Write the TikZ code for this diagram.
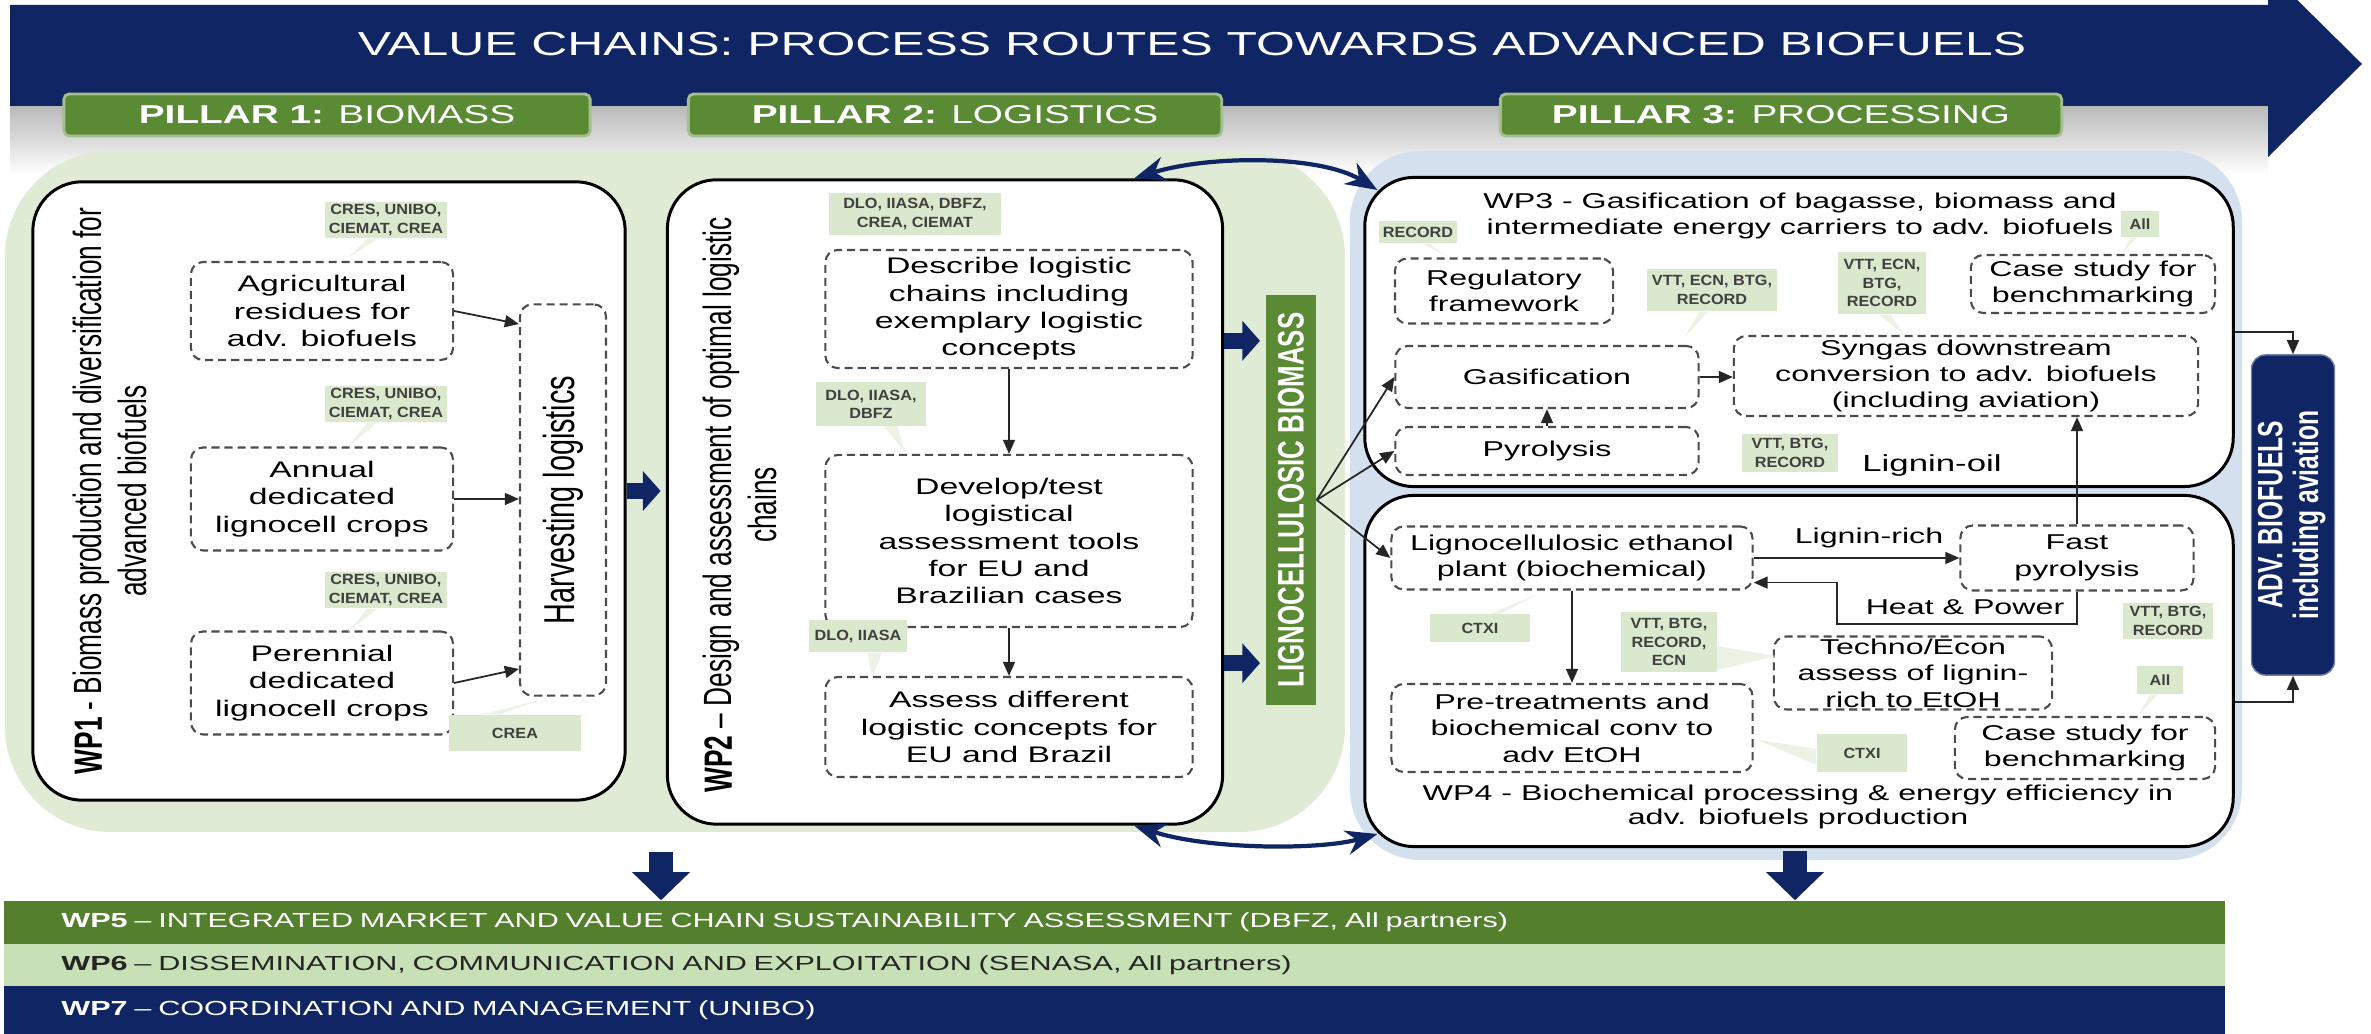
\documentclass[tikz,border=0pt]{standalone}
\usepackage{fontspec}
\setmainfont{Liberation Sans}[FakeStretch=1.5]
\newfontfamily\upfont{Liberation Sans}[FakeStretch=0.667]
\newfontfamily\condfont{Liberation Sans}[FakeStretch=0.7]
\newfontfamily\tagfont{Liberation Sans}[FakeStretch=1.1]
\usetikzlibrary{arrows.meta}

\definecolor{navy}{RGB}{16,37,99}
\definecolor{leaf}{RGB}{90,138,52}
\definecolor{leafdk}{RGB}{84,128,46}
\definecolor{leafbg}{RGB}{223,235,213}
\definecolor{leafbar}{RGB}{200,224,182}
\definecolor{tagbg}{RGB}{218,232,205}
\definecolor{skybg}{RGB}{213,224,238}

\begin{document}
\begin{tikzpicture}[x=0.01cm, y=-0.01cm,
  wh/.style 2 args={minimum width=#1cm, minimum height=#2cm},
  wp/.style={draw=black, line width=0.85pt, fill=white, rounded corners=14pt},
  task/.style={draw=black!70, fill=white, line width=0.6pt,
    dash pattern=on 2.3pt off 1.4pt, rounded corners=3.5pt,
    inner sep=0pt, align=center, font=\fontsize{6.4}{7.8}\selectfont},
  task3/.style={task, font=\fontsize{6.1}{7.5}\selectfont},
  note/.style={inner sep=0pt, align=center, font=\fontsize{6.1}{7.5}\selectfont},
  partner/.style={fill=tagbg, inner sep=0pt, align=center, text=black!75,
    font=\tagfont\fontsize{4.2}{5.2}\selectfont\bfseries},
  tail/.style={fill=tagbg!50!white},
  pillar/.style={fill=leaf, draw=leaf!55!white, line width=0.8pt,
    rounded corners=1.5pt, text=white, inner sep=0pt,
    font=\fontsize{7.35}{9}\selectfont},
  wptitle/.style={rotate=90, align=center,
    font=\upfont\fontsize{11.2}{12.6}\selectfont},
  arr/.style={draw=black!85, line width=0.5pt,
    -{Triangle[length=4pt,width=3.4pt]}},
  blockarr/.style={draw=navy, line width=4.5pt,
    -{Triangle[length=5pt,width=11pt]}, shorten >=1.5pt},
  downarr/.style={draw=navy, line width=7pt,
    -{Triangle[length=8pt,width=16pt]}},
  swoop/.style={draw=navy, line width=1.2pt,
    {Stealth[length=9pt,width=7pt]}-{Stealth[length=9pt,width=7pt]}},
  bar/.style={inner xsep=0.57cm, inner ysep=0pt, text width=21.05cm,
    align=left, font=\fontsize{5.8}{7}\selectfont}
]
  \useasboundingbox (0,0) rectangle (2371,1034);

  % shadow under the banner and the two backgrounds
  \shade[top color=black!30, bottom color=white] (10,100) rectangle (2268,175);
  \fill[leafbg, rounded corners=30pt] (5,151) rectangle (1345,832);
  \fill[skybg, rounded corners=20pt] (1350,151) rectangle (2242,860);

  % banner arrow
  \fill[navy] (10,5) -- (2268,5) -- (2268,-29) -- (2362,64) -- (2268,157)
    -- (2268,106) -- (10,106) -- cycle;
  \node[text=white, font=\fontsize{9.45}{11}\selectfont] (title) at (1192,44)
    {VALUE CHAINS: PROCESS ROUTES TOWARDS ADVANCED BIOFUELS};

  % pillars
  \node[pillar, wh={5.26}{0.42}] (p1) at (327,115) {\textbf{PILLAR 1:} BIOMASS};
  \node[pillar, wh={5.33}{0.42}] (p2) at (955,115) {\textbf{PILLAR 2:} LOGISTICS};
  \node[pillar, wh={5.61}{0.42}] (p3) at (1781,115) {\textbf{PILLAR 3:} PROCESSING};

  % WP1
  \node[wp, wh={5.92}{6.18}] (wp1) at (329,491) {};
  \node[wptitle] (wp1t) at (110,491)
    {\textbf{WP1} - Biomass production and diversification for\\advanced biofuels};
  \node[partner, wh={1.22}{0.36}] (t11) at (386,220) {CRES, UNIBO,\\CIEMAT, CREA};
  \node[task, wh={2.62}{0.98}] (agri) at (322,311)
    {Agricultural\\residues for\\adv. biofuels};
  \node[partner, wh={1.22}{0.36}] (t12) at (386,404) {CRES, UNIBO,\\CIEMAT, CREA};
  \node[task, wh={2.62}{1.03}] (annual) at (322,499)
    {Annual\\dedicated\\lignocell crops};
  \node[partner, wh={1.22}{0.36}] (t13) at (386,590) {CRES, UNIBO,\\CIEMAT, CREA};
  \node[task, wh={2.62}{1.03}] (peren) at (322,683)
    {Perennial\\dedicated\\lignocell crops};
  \node[task, wh={0.86}{3.91}] (harv) at (563,500)
    {\rotatebox{90}{\upfont\fontsize{12.3}{14}\selectfont Harvesting logistics}};
  \node[partner, wh={1.32}{0.36}] (t14) at (515,733) {CREA};

  \fill[tail] (t11.245) -- (t11.225) -- (348,258) -- cycle;
  \fill[tail] (t12.245) -- (t12.225) -- (348,447) -- cycle;
  \fill[tail] (t13.245) -- (t13.225) -- (348,632) -- cycle;
  \fill[tail] (t14.150) -- (t14.130) -- (540,700) -- cycle;

  \draw[arr] (agri.east) -- ([yshift=-3.7pt]harv.west |- agri.east);
  \draw[arr] (annual.east) -- (annual.east -| harv.west);
  \draw[arr] (peren.east) -- ([yshift=4pt]harv.west |- peren.east);

  % WP2
  \node[wp, wh={5.55}{6.44}] (wp2) at (945,502) {};
  \node[wptitle] (wp2t) at (740,505)
    {\textbf{WP2} – Design and assessment of optimal logistic\\chains};
  \node[partner, wh={1.72}{0.42}] (t21) at (915,214)
    {DLO, IIASA, DBFZ,\\CREA, CIEMAT};
  \node[task, wh={3.67}{1.18}] (desc) at (1009,309)
    {Describe logistic\\chains including\\exemplary logistic\\concepts};
  \node[partner, wh={1.09}{0.43}] (t22) at (871,404) {DLO, IIASA,\\DBFZ};
  \node[task, wh={3.67}{1.72}] (dev) at (1009,541)
    {Develop/test\\logistical\\assessment tools\\for EU and\\Brazilian cases};
  \node[partner, wh={0.98}{0.32}] (t23) at (858,636) {DLO, IIASA};
  \node[task, wh={3.67}{1.00}] (assess) at (1009,727)
    {Assess different\\logistic concepts for\\EU and Brazil};

  \fill[tail] (t22.300) -- (t22.320) -- (905,452) -- cycle;
  \fill[tail] (t23.300) -- (t23.325) -- (872,678) -- cycle;

  \draw[arr] (desc.south) -- (dev.north);
  \draw[arr] (dev.south) -- (assess.north);
  \draw[blockarr] (wp1.east) -- (wp1.east -| wp2.west);

  % lignocellulosic biomass
  \node[fill=leaf, wh={0.50}{4.10}, inner sep=0pt, text=white] (lb) at (1291,500)
    {\rotatebox{90}{\condfont\bfseries\fontsize{10.5}{12}\selectfont LIGNOCELLULOSIC BIOMASS}};
  \draw[blockarr] (wp2.30) -- (wp2.30 -| lb.west);
  \draw[blockarr] (wp2.-30) -- (wp2.-30 -| lb.west);

  % WP3
  \node[wp, wh={8.68}{3.09}] (wp3) at (1799,332) {};
  \node[note] (wp3t) at (1800,216)
    {WP3 - Gasification of bagasse, biomass and\\intermediate energy carriers to adv. biofuels};
  \node[partner, wh={0.78}{0.22}] (t31) at (1418,232) {RECORD};
  \node[partner, wh={0.38}{0.26}] (t32) at (2140,224) {All};
  \node[task3, wh={2.18}{0.65}] (reg) at (1504,291) {Regulatory\\framework};
  \node[partner, wh={1.30}{0.42}] (t33) at (1712,290) {VTT, ECN, BTG,\\RECORD};
  \node[partner, wh={0.88}{0.62}] (t34) at (1882,283) {VTT, ECN,\\BTG,\\RECORD};
  \node[task3, wh={2.44}{0.58}] (case1) at (2093,284) {Case study for\\benchmarking};
  \node[task3, wh={3.03}{0.62}] (gas) at (1547,377) {Gasification};
  \node[task3, wh={4.64}{0.80}] (syn) at (1966,376)
    {Syngas downstream\\conversion to adv. biofuels\\(including aviation)};
  \node[task3, wh={3.03}{0.48}] (pyro) at (1547,451) {Pyrolysis};
  \node[partner, wh={0.95}{0.38}] (t35) at (1790,453) {VTT, BTG,\\RECORD};
  \node[note, font=\fontsize{6.6}{8}\selectfont] (oil) at (1932,466) {Lignin-oil};

  \fill[tail] (t31.290) -- (t31.315) -- (1446,256) -- cycle;
  \fill[tail] (t33.240) -- (t33.260) -- (1684,338) -- cycle;
  \fill[tail] (t34.265) -- (t34.285) -- (1905,336) -- cycle;
  \fill[tail] (t32.235) -- (t32.255) -- (2122,254) -- cycle;

  \draw[arr] (gas.east) -- (syn.west |- gas.east);
  \draw[arr] (pyro.north) -- (gas.south);

  % WP4
  \node[wp, wh={8.68}{3.51}] (wp4) at (1799,671) {};
  \node[task3, wh={3.61}{0.63}] (eth) at (1572,558)
    {Lignocellulosic ethanol\\plant (biochemical)};
  \node[note] (rich) at (1869,538) {Lignin-rich};
  \node[task3, wh={2.33}{0.65}] (fp) at (2077,558) {Fast\\pyrolysis};
  \node[note] (hp) at (1965,607) {Heat \& Power};
  \node[partner, wh={0.90}{0.35}] (t41) at (2168,621) {VTT, BTG,\\RECORD};
  \node[partner, wh={1.00}{0.27}] (t42) at (1480,628) {CTXI};
  \node[partner, wh={0.95}{0.60}] (t43) at (1669,642) {VTT, BTG,\\RECORD,\\ECN};
  \node[task3, wh={2.78}{0.73}] (tech) at (1913,673)
    {Techno/Econ\\assess of lignin-\\rich to EtOH};
  \node[partner, wh={0.45}{0.28}] (t44) at (2160,680) {All};
  \node[task3, wh={3.61}{0.88}] (pre) at (1572,728)
    {Pre-treatments and\\biochemical conv to\\adv EtOH};
  \node[partner, wh={0.90}{0.38}] (t45) at (1862,753) {CTXI};
  \node[task3, wh={2.60}{0.62}] (case2) at (2085,748) {Case study for\\benchmarking};
  \node[note, font=\fontsize{6.1}{6.9}\selectfont] (wp4t) at (1798,807)
    {WP4 - Biochemical processing \& energy efficiency in\\adv. biofuels production};

  \fill[tail] (t42.55) -- (t42.35) -- (1538,594) -- cycle;
  \fill[tail] (t43.-5) -- (t43.-30) -- (1776,656) -- cycle;
  \fill[tail] (t44.235) -- (t44.260) -- (2138,716) -- cycle;
  \fill[tail] (t45.175) -- (t45.195) -- (1758,740) -- cycle;

  \coordinate (hpbend) at (1837,624);
  \draw[arr] (eth.east) -- (fp.west);
  \draw[arr] (fp.south) |- (hpbend) |- ([yshift=-7pt]eth.east);
  \draw[arr] (eth.south) -- (pre.north);
  \draw[arr] (fp.north) -- (fp.north |- syn.south);

  % biomass feeds the conversion routes
  \draw[arr] (lb.east) -- (gas.west);
  \draw[arr] (lb.east) -- (pyro.west);
  \draw[arr] (lb.east) -- (eth.west);

  % loops between logistics and processing
  \draw[swoop] ([xshift=53.8pt]wp2.north) .. controls (1210,155) and (1320,155)
    .. ([shift={(4pt,-4pt)}]wp3.north west);
  \draw[swoop] ([xshift=53.8pt]wp2.south) .. controls (1210,850) and (1320,850)
    .. ([shift={(4pt,4pt)}]wp4.south west);

  % advanced biofuels
  \node[fill=navy, draw=navy!60, rounded corners=4pt, wh={0.83}{3.20},
    inner sep=0pt, text=white] (adv) at (2293,515)
    {\rotatebox{90}{\condfont\bfseries\fontsize{10}{9.6}\selectfont
      \begin{tabular}{@{}c@{}}ADV. BIOFUELS\\including aviation\end{tabular}}};
  \draw[arr] (wp3.east) -| (adv.north);
  \draw[arr] ([yshift=-8.8pt]wp4.east) -| (adv.south);

  % work packages across the chain
  \node[bar, fill=leafdk, text=white, wh={22.19}{0.43}] (wp5) at (1114.5,922.5)
    {\textbf{WP5} – INTEGRATED MARKET AND VALUE CHAIN SUSTAINABILITY ASSESSMENT (DBFZ, All partners)};
  \node[bar, fill=leafbar, text=black!85, wh={22.19}{0.42}] (wp6) at (1114.5,965)
    {\textbf{WP6} – DISSEMINATION, COMMUNICATION AND EXPLOITATION (SENASA, All partners)};
  \node[bar, fill=navy, text=white, wh={22.19}{0.48}] (wp7) at (1114.5,1010)
    {\textbf{WP7} – COORDINATION AND MANAGEMENT (UNIBO)};

  \coordinate (dnA) at (661,852);
  \coordinate (dnB) at (1795,851);
  \draw[downarr] (dnA) -- (dnA |- wp5.north);
  \draw[downarr] (dnB) -- (dnB |- wp5.north);

\end{tikzpicture}
\end{document}
